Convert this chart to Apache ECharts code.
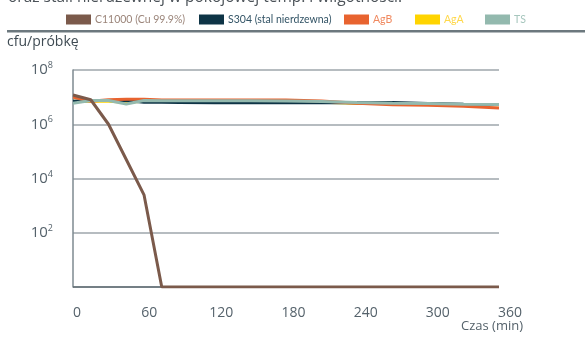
<!DOCTYPE html>
<html><head><meta charset="utf-8">
<script src="https://cdn.jsdelivr.net/npm/echarts@6/dist/echarts.min.js"></script>
<style>html,body{margin:0;padding:0;background:#fff}#c{width:585px;height:343px}</style>
</head><body><div id="c"></div>
<script>
const times = [0, 15, 30, 45, 60, 75, 90, 120, 150, 180, 210, 240, 270, 300, 330, 360];
const seriesNames = ['C11000 (Cu 99.9%)', 'S304 (stal nierdzewna)', 'AgB', 'AgA', 'TS'];
const c11000 = [1.2e7, 8e6, 1.0e6, 5e4, 2.5e3, 1, 1, 1, 1, 1, 1, 1, 1, 1, 1, 1];
const s304 = [7e6, 7.5e6, 7.5e6, 7.5e6, 6.5e6, 6.5e6, 6.3e6, 6.2e6, 6.2e6, 6.2e6, 6.2e6, 6.2e6, 6.3e6, 5.8e6, 5.5e6, 5.3e6];
const agB = [1e7, 7e6, 8e6, 8.3e6, 8.3e6, 7.8e6, 7.8e6, 7.8e6, 7.8e6, 7.8e6, 7.2e6, 6e6, 5.2e6, 5e6, 4.6e6, 4e6];
const agA = [7e6, 7e6, 7e6, 6.5e6, 7e6, 7e6, 7e6, 7e6, 7e6, 7e6, 6.5e6, 6e6, 5.8e6, 5.5e6, 5.3e6, 5.2e6];
const ts = [6e6, 7.5e6, 7.5e6, 5.6e6, 7.5e6, 7.3e6, 7.3e6, 7.3e6, 7.3e6, 7.2e6, 6.9e6, 6.4e6, 6e6, 5.8e6, 5.5e6, 5.3e6];
const xTicks = [0, 60, 120, 180, 240, 300, 360];
const yTickExp = [0, 2, 4, 6, 8];

const colors = ['#7b5a4b', '#0e3446', '#e8632f', '#ffd400', '#93b9ae'];
const textColors = ['#9b857a', '#335466', '#f0895f', '#ffd84a', '#a6c6bd'];
const legendLeft = [61, 194, 339, 410, 480];
const values = [c11000, s304, agB, agA, ts];
const zs = [10, 3, 4, 2, 5];

const chart = echarts.init(document.getElementById('c'));
const font = '"Open Sans", "Noto Sans", sans-serif';
const lfont = 'Lato, sans-serif';
chart.setOption({
  animation: false,
  textStyle: {fontFamily: font},
  grid: [
    {left: 73, top: 70, width: 426, height: 217},
    {left: 77, top: 70, width: 433, height: 217}
  ],
  legend: seriesNames.map((n, i) => ({
    data: [n], left: legendLeft[i], top: 9, itemWidth: 25, itemHeight: 10, itemGap: 5,
    icon: 'rect', selectedMode: false,
    textStyle: {color: textColors[i], fontSize: 10.5, fontFamily: lfont, padding: [0,0,0,-1]}
  })),
  xAxis: [
    {type: 'value', gridIndex: 0, min: 0, max: 360, interval: 60,
     axisLine: {show: false}, axisTick: {show: false}, axisLabel: {show: false}, splitLine: {show: false}},
    {type: 'value', gridIndex: 1, min: 0, max: 360, interval: 60,
     axisLine: {show: false}, axisTick: {show: false}, splitLine: {show: false},
     axisLabel: {color: '#55626b', fontSize: 14, margin: 19,
       formatter: v => xTicks.includes(v) ? String(v) : ''}}
  ],
  yAxis: [
    {type: 'log', gridIndex: 0, logBase: 10, min: 1, max: 1e8, interval: 2,
     axisLine: {show: true, lineStyle: {color: '#7e8a90', width: 1.5}},
     axisTick: {show: false},
     splitLine: {show: true, lineStyle: {color: '#9ea6ab', width: 1.5}},
     axisLabel: {margin: 20, color: '#55626b',
       formatter: v => {
         const e = Math.round(Math.log10(v));
         if (e === 0 || !yTickExp.includes(e)) return '';
         return '{b|10}{s|' + e + '}';
       },
       rich: {b: {fontSize: 15, color: '#55626b', fontFamily: font},
              s: {fontSize: 9, color: '#55626b', verticalAlign: 'top', padding: [0,0,9,0], fontFamily: font}}}
    },
    {type: 'value', gridIndex: 1, show: false, min: 0, max: 1}
  ],
  graphic: [
    {type: 'text', left: 8, top: -10, style: {text: 'oraz stali nierdzewnej w pokojowej temp. i wilgotności.', font: '15.5px ' + font, fill: '#4b5258'}},
    {type: 'rect', shape: {x: 7, y: 30, width: 578, height: 2.5}, style: {fill: '#6c787e'}},
    {type: 'text', left: 7, top: 35, style: {text: 'cfu/próbkę', font: '14px ' + font, fill: '#3f4b53'}},
    {type: 'text', left: 461, top: 320, style: {text: 'Czas (min)', font: '13px ' + font, fill: '#55626b'}},
    {type: 'line', shape: {x1: 73, y1: 287, x2: 499, y2: 287}, style: {stroke: '#5f6b72', lineWidth: 1.5}, z: 1}
  ],
  series: seriesNames.map((n, i) => ({
    name: n, type: 'line', xAxisIndex: 0, yAxisIndex: 0, z: zs[i],
    showSymbol: false, symbol: 'none', itemStyle: {color: colors[i]},
    lineStyle: {color: colors[i], width: 3},
    data: times.map((t, k) => [t, values[i][k]])
  }))
});
</script></body></html>
